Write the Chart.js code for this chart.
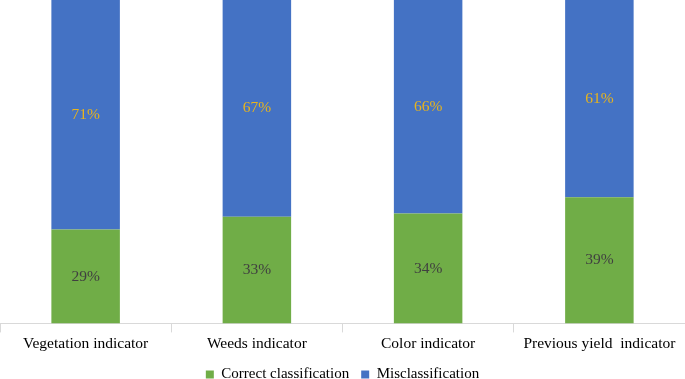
<!DOCTYPE html>
<html>
<head>
<meta charset="utf-8">
<script src="https://cdn.jsdelivr.net/npm/chart.js@4/dist/chart.umd.min.js"></script>
<style>
  html, body { margin: 0; padding: 0; background: #fff; }
  #wrap { width: 685px; height: 379px; }
</style>
</head>
<body>
<div id="wrap"><canvas id="myChart"></canvas></div>
<script>
const categories = ['Vegetation indicator', 'Weeds indicator', 'Color indicator', 'Previous yield  indicator'];
const correct = [29, 33, 34, 39];
const misclassified = [71, 67, 66, 61];

const serif = '"Liberation Serif", "Times New Roman", serif';

// draw the percentage labels in the middle of each segment
const segmentLabels = {
    id: 'segmentLabels',
    afterDatasetsDraw(chart) {
        const ctx = chart.ctx;
        ctx.save();
        ctx.font = '15.5px ' + serif;
        ctx.textAlign = 'center';
        ctx.textBaseline = 'middle';
        chart.data.datasets.forEach((ds, i) => {
            chart.getDatasetMeta(i).data.forEach((bar, j) => {
                const mid = (bar.y + bar.base) / 2;
                ctx.fillStyle = i === 0 ? '#404040' : '#E8B41C';
                ctx.fillText(ds.data[j] + '%', bar.x, mid);
            });
        });
        ctx.restore();
    }
};

const chart = new Chart(document.getElementById('myChart'), {
    type: 'bar',
    data: {
        labels: categories,
        datasets: [{
            label: 'Correct classification',
            data: correct,
            backgroundColor: '#70AD47'
        }, {
            label: 'Misclassification',
            data: misclassified,
            backgroundColor: '#4472C4'
        }]
    },
    options: {
        responsive: true,
        maintainAspectRatio: false,
        animation: false,
        layout: { padding: { left: 0, right: 0, top: 0, bottom: -13 } },
        datasets: {
            bar: { categoryPercentage: 1, barPercentage: 0.4 }
        },
        scales: {
            x: {
                stacked: true,
                grid: {
                    offset: true,
                    drawOnChartArea: false,
                    tickLength: 9,
                    color: '#D9D9D9'
                },
                border: { color: '#D9D9D9' },
                ticks: {
                    color: '#000',
                    padding: 2,
                    font: { family: serif, size: 15.5 }
                }
            },
            y: {
                stacked: true,
                display: false,
                min: 0,
                max: 100
            }
        },
        plugins: {
            tooltip: { enabled: false },
            legend: {
                position: 'bottom',
                labels: {
                    color: '#000',
                    boxWidth: 8,
                    boxHeight: 8,
                    padding: 12,
                    font: { family: serif, size: 15 }
                }
            }
        }
    },
    plugins: [segmentLabels]
});
</script>
</body>
</html>
